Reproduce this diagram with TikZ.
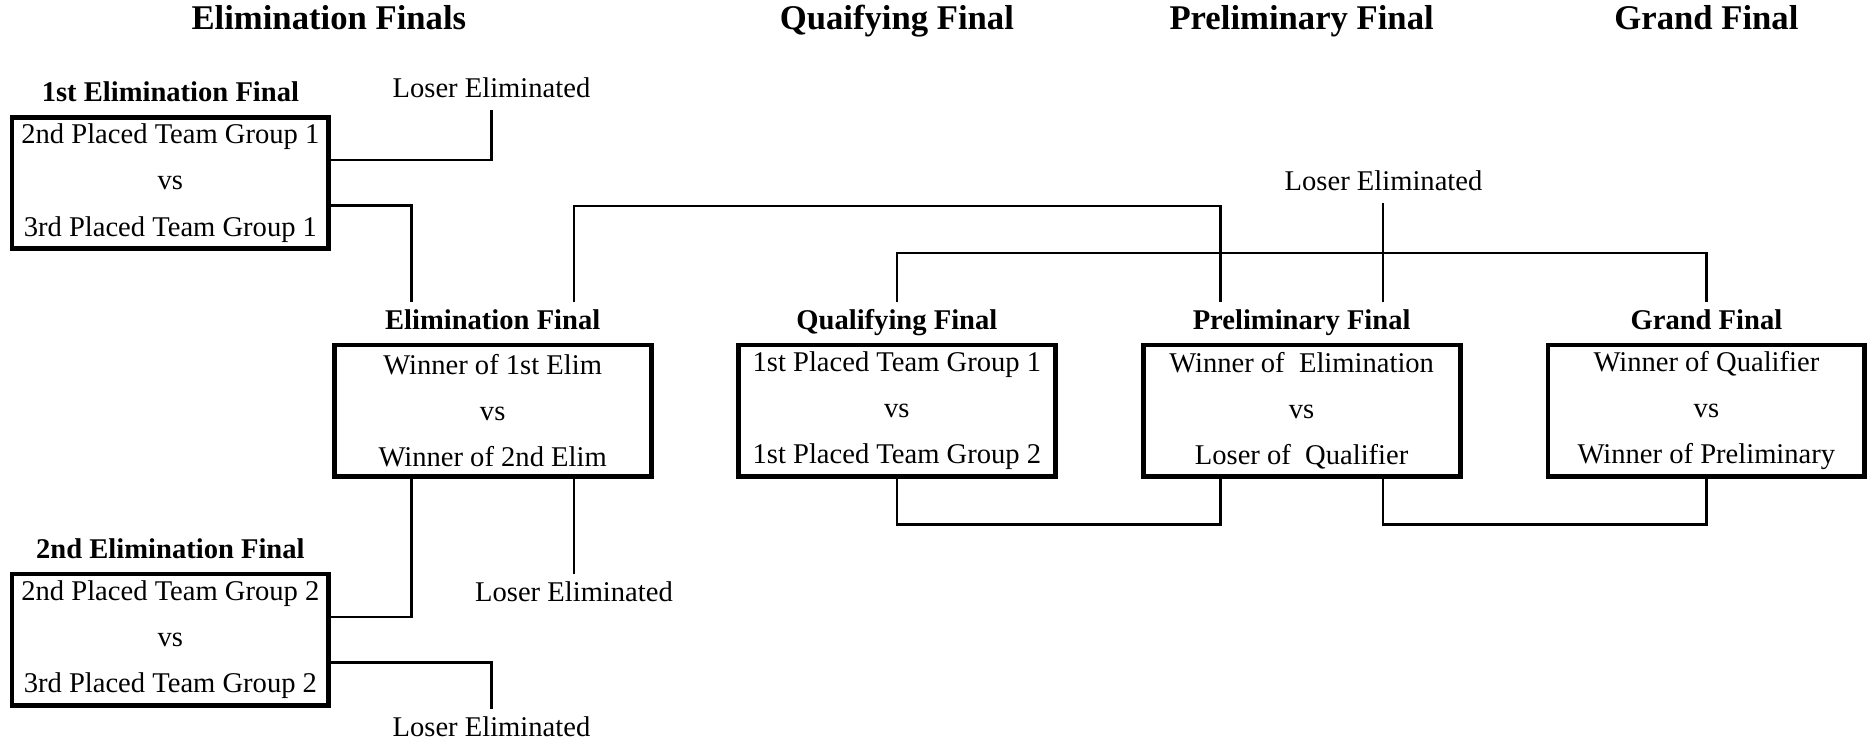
\documentclass[tikz,border=0pt]{standalone}
\usepackage{fontspec}
\setmainfont{Liberation Serif}
\usepackage{tikz}
\usetikzlibrary{positioning}
\usetikzlibrary{calc}

\begin{document}
\begin{tikzpicture}[
  match/.style={draw, line width=2.3pt, align=center,
    minimum width=5.3cm, minimum height=2.2cm, inner sep=0pt,
    font=\fontsize{13.6}{22}\selectfont},
  stage/.style={font=\fontsize{13.6}{16}\selectfont\bfseries,
    text height=10pt, text depth=3pt, inner sep=3pt},
  heading/.style={font=\fontsize{16.5}{20}\selectfont\bfseries,
    text height=12pt, text depth=4pt},
  note/.style={font=\fontsize{13.6}{16}\selectfont,
    text height=10pt, text depth=3pt, inner sep=3pt},
  link/.style={draw, line width=1.2pt}]
  \useasboundingbox (0,0) rectangle (31.36,-12.5);
  %% Round headings
  \node [heading] (H1) at (5.50,-0.36) {Elimination Finals};
  \node [heading] (H2) at (15.00,-0.36) {Quaifying Final};
  \node [heading] (H3) at (21.77,-0.36) {Preliminary Final};
  \node [heading] (H4) at (28.54,-0.36) {Grand Final};
  %% Matches
  \node [match] (E1) at (2.85,-3.06) {2nd Placed Team Group 1\\vs\\3rd Placed Team Group 1};
  \node [match] (E2) at (2.85,-10.70) {2nd Placed Team Group 2\\vs\\3rd Placed Team Group 2};
  \node [match] (EF) at (8.24,-6.87) {Winner of 1st Elim\\vs\\Winner of 2nd Elim};
  \node [match] (QF) at (15.00,-6.87) {1st Placed Team Group 1\\vs\\1st Placed Team Group 2};
  \node [match] (PF) at (21.77,-6.87) {Winner of~ Elimination\\vs\\Loser of~ Qualifier};
  \node [match] (GF) at (28.54,-6.87) {Winner of Qualifier\\vs\\Winner of Preliminary};
  %% Match titles
  \node [stage, above=0pt of E1] (E1_t) {1st Elimination Final};
  \node [stage, above=0pt of E2] (E2_t) {2nd Elimination Final};
  \node [stage, above=0pt of EF] (EF_t) {Elimination Final};
  \node [stage, above=0pt of QF] (QF_t) {Qualifying Final};
  \node [stage, above=0pt of PF] (PF_t) {Preliminary Final};
  \node [stage, above=0pt of GF] (GF_t) {Grand Final};
  %% Losers
  \node [note] (L1) at (8.22,-1.50) {Loser Eliminated};
  \node [note] (L2) at (23.14,-3.06) {Loser Eliminated};
  \node [note] (L3) at (9.60,-9.94) {Loser Eliminated};
  \node [note] (L4) at (8.22,-12.20) {Loser Eliminated};
  %% Lines
  \draw [link] ([yshift=0.38cm]E1.east) -| (L1.south);
  \draw [link] ([yshift=-0.38cm]E1.east) -| ([xshift=-1.36cm]EF_t.north);
  \draw [link] ([xshift=1.36cm]EF_t.north) -- ++(0,1.6) -| ([xshift=-1.36cm]PF_t.north);
  \draw [link] ([xshift=1.36cm]PF_t.north) -- ([xshift=1.36cm]PF_t.north |- L2.south);
  \draw [link] (QF_t.north) -- ++(0,0.82) -| (GF_t.north);
  \draw [link] ([xshift=-1.36cm]EF.south) |- ([yshift=0.38cm]E2.east);
  \draw [link] ([xshift=1.36cm]EF.south) -- ([xshift=1.36cm]EF.south |- L3.north);
  \draw [link] ([yshift=-0.38cm]E2.east) -| (L4.north);
  \draw [link] (QF.south) -- ++(0,-0.76) -| ([xshift=-1.36cm]PF.south);
  \draw [link] ([xshift=1.36cm]PF.south) -- ++(0,-0.76) -| (GF.south);
\end{tikzpicture}
\end{document}
